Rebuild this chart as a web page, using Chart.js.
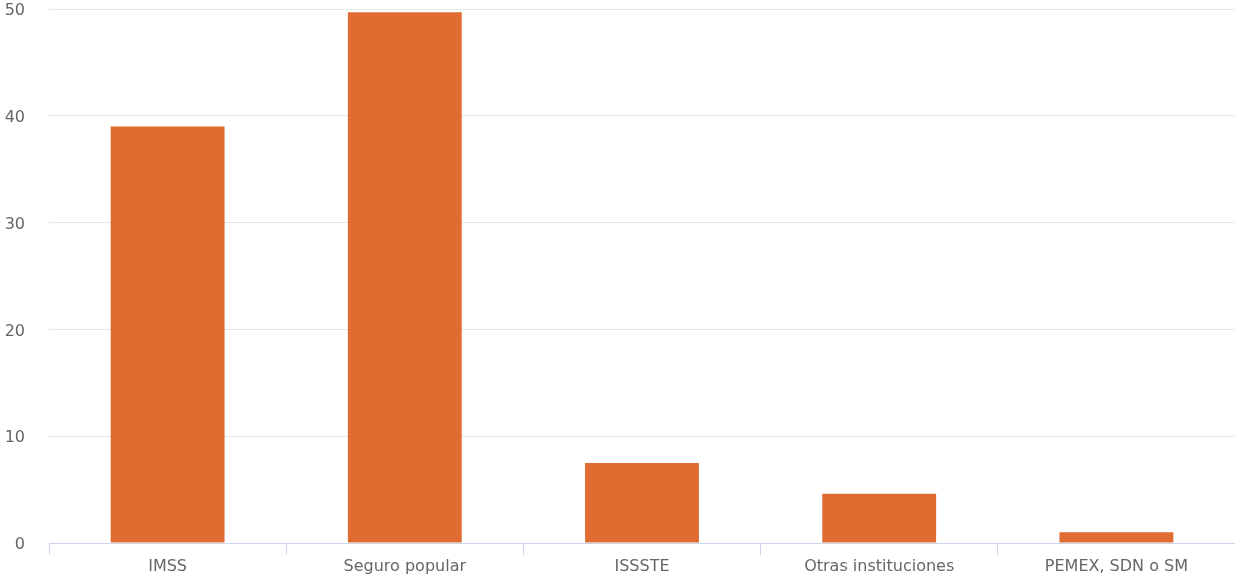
<!DOCTYPE html>
<html>
<head>
<meta charset="utf-8">
<script src="https://cdn.jsdelivr.net/npm/chart.js@4.4.1/dist/chart.umd.min.js"></script>
<style>
  html, body { margin: 0; padding: 0; background: #ffffff; }
  #wrap { width: 1235px; height: 578px; position: relative; }
</style>
</head>
<body>
<div id="wrap"><canvas id="c" width="1235" height="578"></canvas></div>
<script>
const categories = ["IMSS", "Seguro popular", "ISSSTE", "Otras instituciones", "PEMEX, SDN o SM"];
const values = [39.0, 49.7, 7.5, 4.6, 1.0];
const yTicks = [0, 10, 20, 30, 40, 50];

const FONT = "'DejaVu Sans', sans-serif";

new Chart(document.getElementById('c'), {
  type: 'bar',
  data: {
    labels: categories,
    datasets: [{
      data: values,
      backgroundColor: '#E06C31',
      borderWidth: 0,
      barPercentage: 1.0,
      categoryPercentage: 0.48
    }]
  },
  options: {
    responsive: false,
    animation: false,
    devicePixelRatio: 1,
    layout: { padding: { top: 9, right: 0, bottom: 0, left: 0 } },
    plugins: { legend: { display: false }, tooltip: { enabled: false }, title: { display: false } },
    scales: {
      x: {
        grid: { display: true, drawOnChartArea: false, offset: true, color: '#ccd6eb', tickLength: 12, lineWidth: 1 },
        border: { display: true, color: '#ccd6eb', width: 1 },
        ticks: { color: '#666666', font: { family: FONT, size: 16 }, padding: 2, maxRotation: 0 },
        afterFit: (s) => { s.height = 35; s.paddingLeft = 0; s.paddingRight = 0; }
      },
      y: {
        min: 0, max: 50,
        afterBuildTicks: (s) => { s.ticks = yTicks.map(v => ({ value: v })); },
        grid: { color: '#e6e6e6', drawTicks: false, lineWidth: 1 },
        border: { display: false },
        ticks: { color: '#666666', font: { family: FONT, size: 16 }, padding: 24, labelOffset: 2 },
        afterFit: (s) => { s.width = 49; s.paddingTop = 0; s.paddingBottom = 0; }
      }
    }
  }
});
</script>
</body>
</html>
